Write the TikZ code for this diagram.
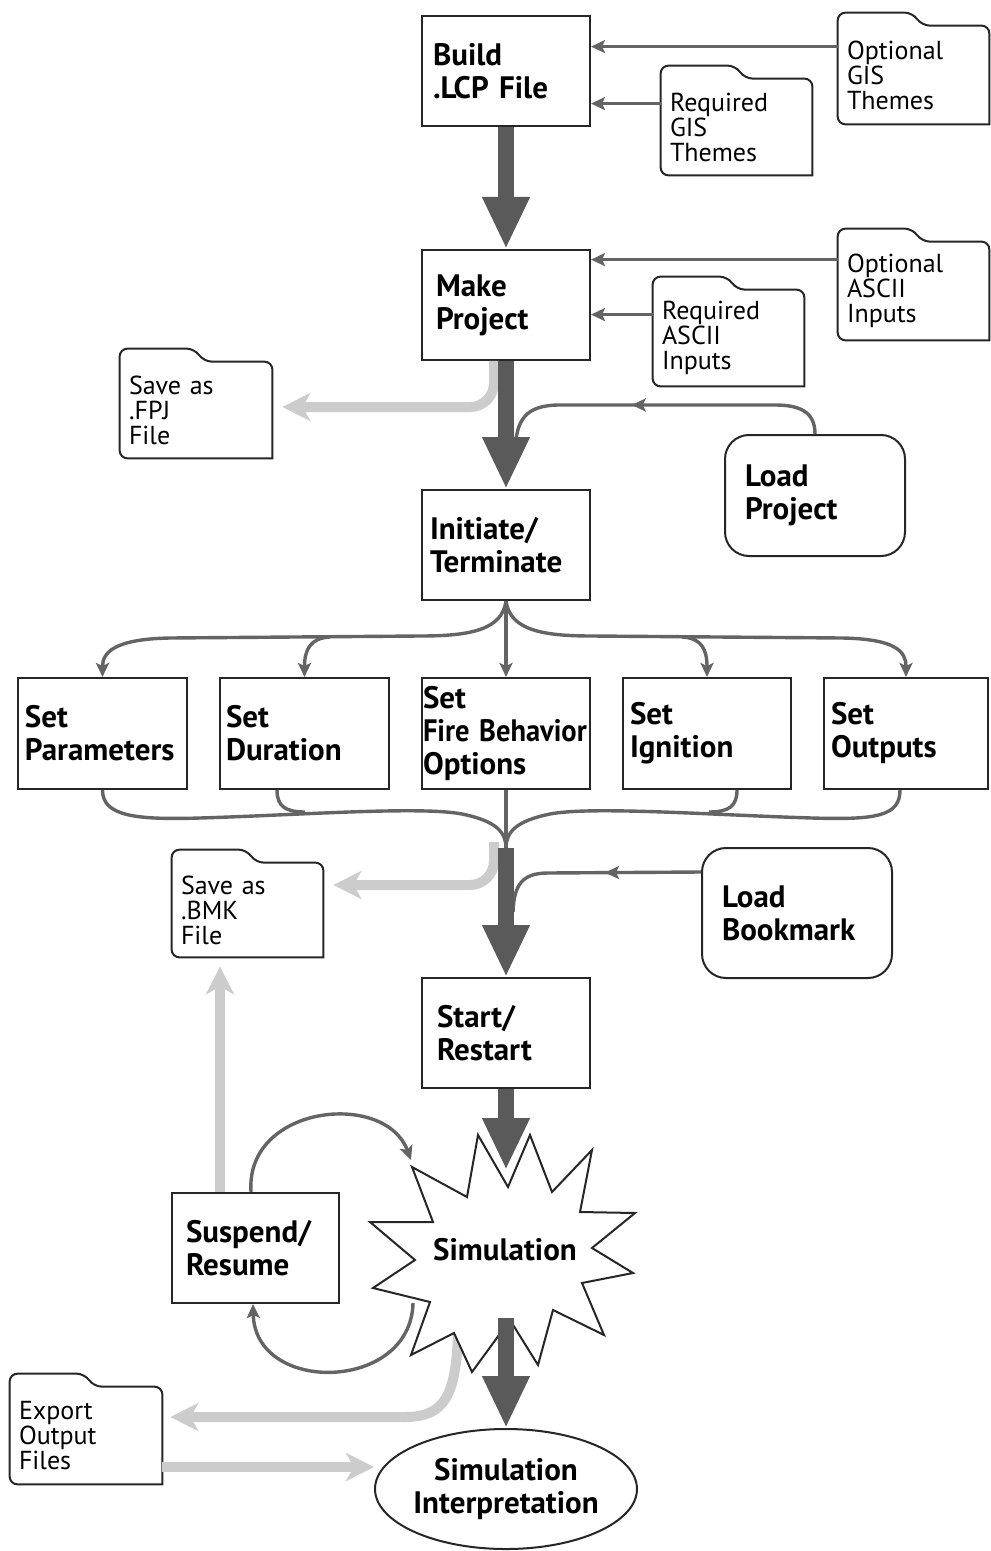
\documentclass[tikz,border=0pt]{standalone}
\usepackage{graphicx}
\usepackage{fontspec}
\setmainfont{PT Sans}
\usetikzlibrary{calc,arrows.meta,shapes.geometric,decorations.markings}
\definecolor{dk}{HTML}{646464}
\definecolor{thk}{HTML}{5A5A5A}
\definecolor{lt}{HTML}{CCCCCC}
\definecolor{bx}{HTML}{262626}
\newcommand\folderline[1]{%
  \draw[boxline] (#1.south east) [rounded corners=4pt] -- (#1.north east)
    -- ($(#1.north west)+(84,0)$) -- ($(#1.north west)+(75,-13)$)
    -- ($(#1.north west)+(0,-13)$) -- (#1.south west) [sharp corners] -- cycle;}
\tikzset{
  boxline/.style={draw=bx, line width=1pt},
  bigfont/.style={font=\fontsize{15.5}{16.5}\selectfont\bfseries},
  procbox/.style={boxline, fill=white, rectangle, minimum width=84pt, minimum height=55pt,
    inner xsep=5pt, text width=74pt, align=left, bigfont},
  loadbox/.style={boxline, fill=white, rectangle, rounded corners=12pt, inner xsep=10pt,
    align=left, bigfont},
  folderbox/.style={draw=none, rectangle, minimum width=75.5pt, inner xsep=4.5pt,
    text width=66.5pt, align=left, font=\fontsize{13}{12.5}\selectfont},
  dkline/.style={draw=dk, line width=1.7pt},
  dkarrow/.style={dkline, -{Stealth[length=7pt,width=6.5pt,inset=1.5pt]}},
  thkarrow/.style={draw=thk, line width=8pt, -{Triangle[length=26pt,width=22pt]}},
  ltarrow/.style={draw=lt, line width=5pt, -{Stealth[length=14pt,width=14pt,inset=4pt]}},
  midarrow/.style={postaction={decorate}, decoration={markings,
    mark=at position #1 with {\arrow{Stealth[length=7pt,width=6.5pt,inset=1.5pt]}}}},
}
\begin{document}
\begin{tikzpicture}[x=0.5pt, y=-0.5pt]
\fill[white] (0,0) rectangle (990,1551);
\useasboundingbox (0,0) rectangle (990,1551);

% ---------- main column ----------
\node[procbox, inner xsep=5.5pt, text width=73pt] (build) at (506,71) {Build\\.LCP File};
\node[procbox, inner xsep=7pt, text width=70pt] (make) at (506,305) {Make\\Project};
\node[procbox, inner xsep=4pt, text width=76pt] (init) at (506,545) {Initiate/\\Terminate};

\node[procbox, minimum height=55.5pt, minimum width=84.5pt, inner xsep=3.5pt, text width=77.5pt] (setpar) at (102.5,733.5) {Set\\Parameters};
\node[procbox, minimum height=55.5pt, minimum width=84.5pt, inner xsep=3pt, text width=78.5pt] (setdur) at (304.5,733.5) {Set\\Duration};
\node[procbox, minimum height=55.5pt, inner xsep=0.5pt, text width=83pt] (setfire) at (506,733.5) {Set\\\scalebox{0.92}[1]{Fire Behavior}\\Options};
\node[procbox, minimum height=55.5pt, inner xsep=3.5pt, text width=77pt] (setign) at (707,733.5) {Set\\Ignition};
\node[procbox, minimum height=55.5pt, minimum width=82pt, inner xsep=3.5pt, text width=75pt] (setout) at (906,733.5) {Set\\Outputs};

\node[procbox, inner xsep=7.5pt, text width=69pt] (start) at (506,1033) {Start/\\Restart};
\node[procbox, minimum width=83.5pt, inner xsep=7pt, text width=69.5pt] (suspend) at (255.5,1248) {Suspend/\\Resume};

\node[loadbox, minimum width=90pt, minimum height=60.5pt, text width=70pt] (loadproj) at (815,495.5) {Load\\Project};
\node[loadbox, minimum width=95pt, minimum height=65pt, text width=75pt] (loadbm) at (797,913) {Load\\Bookmark};

\node[boxline, ellipse, fill=white, minimum width=131pt, minimum height=60pt, inner sep=-4pt, align=center, bigfont] (interp) at (506,1489) {Simulation\\Interpretation};

% ---------- folders ----------
\node[folderbox, minimum height=49pt] (optgis) at (913.5,75) {Optional\\GIS\\Themes};
\node[folderbox, minimum height=48pt] (reqgis) at (736.5,127) {Required\\GIS\\Themes};
\node[folderbox, minimum height=49pt] (optascii) at (913.5,291) {Optional\\ASCII\\Inputs};
\node[folderbox, minimum height=48pt] (reqascii) at (728.5,338) {Required\\ASCII\\Inputs};
\node[folderbox, minimum height=48pt, minimum width=76pt, text width=67pt] (savefpj) at (196,410) {Save as\\.FPJ\\File};
\node[folderbox, minimum height=47pt] (savebmk) at (247.5,910) {Save as\\.BMK\\File};
\node[folderbox, minimum height=48.5pt, minimum width=76pt, text width=67pt] (export) at (86,1435.5) {Export\\Output\\Files};
\folderline{optgis}
\folderline{reqgis}
\folderline{optascii}
\folderline{reqascii}
\folderline{savefpj}
\folderline{savebmk}
\folderline{export}

% ---------- helper coordinates ----------
\coordinate (o1) at ($(optgis.north west)+(0,21)$);
\coordinate (r1) at ($(reqgis.north west)+(0,25)$);
\coordinate (o2) at ($(optascii.north west)+(0,18)$);
\coordinate (r2) at ($(reqascii.north west)+(0,25)$);
\coordinate (pjoin) at (515,452);
\coordinate (merge) at (506,848);
\coordinate (bjoin) at (513,912);
\coordinate (fanL) at (330,637);
\coordinate (fanR) at (682,637);
\coordinate (simTop) at (506,1170);
\coordinate (simBot) at (506,1318);
\coordinate (simTL) at (411,1160);
\coordinate (simBL) at (413,1303);
\coordinate (simB) at (458,1333);
\coordinate (ex) at ($(export.east)+(0,31.5)$);

% ---------- inputs ----------
\draw[dkarrow] (o1) -- (o1 -| build.east);
\draw[dkarrow] (r1) -- (r1 -| build.east);
\draw[dkarrow] (o2) -- (o2 -| make.east);
\draw[dkarrow] (r2) -- (r2 -| make.east);

% ---------- light gray outputs ----------
\draw[ltarrow, rounded corners=12pt] ($(make.south)+(-12,0)$) |- ($(savefpj.east)+(10,-3)$);
\draw[ltarrow, rounded corners=12pt] ($(merge)+(-12,-6)$) |- ($(savebmk.east)+(10,-25)$);
\draw[ltarrow] ($(suspend.north)+(-35.5,0)$) -- ($(savebmk.south)+(-27.5,9)$);
\draw[ltarrow] (simB) .. controls (456,1395) and (445,1417) .. (405,1417) -- ($(export.east)+(8,-18.5)$);
\draw[ltarrow] (ex) -- (ex -| interp.west);

% ---------- starburst (drawn over the light gray start) ----------
\draw[boxline, fill=white] (412,1167) -- (467,1197) -- (478,1135) -- (508,1187) -- (530,1135)
  -- (552,1192) -- (592,1150) -- (580,1212) -- (635,1213) -- (592,1248) -- (633,1273)
  -- (582,1283) -- (604,1335) -- (553,1310) -- (538,1365) -- (510,1320) -- (472,1372)
  -- (454,1333) -- (411,1355) -- (430,1302) -- (373,1288) -- (415,1260) -- (370,1222)
  -- (433,1222) -- cycle;
\node[bigfont] (sim) at (505,1250) {Simulation};

% ---------- fan out / merge ----------
\draw[dkarrow] (init.south) .. controls (502,630) and (470,636) .. (420,636) -- (170,638)
  .. controls (115,639) and (102.5,652) .. (setpar.north);
\draw[dkarrow] (fanL) .. controls (310,638) and (304.5,650) .. (setdur.north);
\draw[dkarrow] (init.south) -- (setfire.north);
\draw[dkarrow] (init.south) .. controls (510,630) and (542,636) .. (592,636) -- (842,638)
  .. controls (897,639) and (906,652) .. (setout.north);
\draw[dkarrow] (fanR) .. controls (702,638) and (707,650) .. (setign.north);

\draw[dkline] (setpar.south) .. controls (102.5,816) and (135,820) .. (200,818)
  .. controls (300,815) and (420,806) .. (462,814) .. controls (496,821) and (506,832) .. (merge);
\draw[dkline] ($(setdur.south)+(-27.5,0)$) .. controls (277,806) and (285,812) .. (305,812);
\draw[dkline] ($(setout.south)+(-6,0)$) .. controls (900,816) and (877,820) .. (812,818)
  .. controls (712,815) and (592,806) .. (550,814) .. controls (516,821) and (506,832) .. (merge);
\draw[dkline] ($(setign.south)+(30,0)$) .. controls (737,806) and (729,812) .. (709,812);
\draw[dkline] (setfire.south) -- (merge);

% ---------- load connectors ----------
\draw[dkline, midarrow=100pt] (loadproj.north) .. controls (815,412) and (800,405) .. (775,405)
  -- (560,405) .. controls (525,405) and (516,420) .. (pjoin);
\draw[dkline, midarrow=48pt] ($(loadbm.north west)+(0,25)$) -- (548,873)
  .. controls (522,873) and (514,885) .. (bjoin);

% ---------- thick flow ----------
\draw[thkarrow] (build.south) -- (make.north);
\draw[thkarrow] (make.south) -- (init.north);
\draw[thkarrow] (merge) -- (start.north);
\draw[thkarrow] (start.south) -- (simTop);
\draw[thkarrow] (simBot) -- (interp.north);

% ---------- suspend loop ----------
\draw[dkarrow] ($(suspend.north)+(-4.5,0)$) .. controls (245,1105) and (385,1090) .. (simTL);
\draw[dkarrow] (simBL) .. controls (411,1392) and (255,1395) .. ($(suspend.south)+(-2.5,0)$);
\end{tikzpicture}
\end{document}
